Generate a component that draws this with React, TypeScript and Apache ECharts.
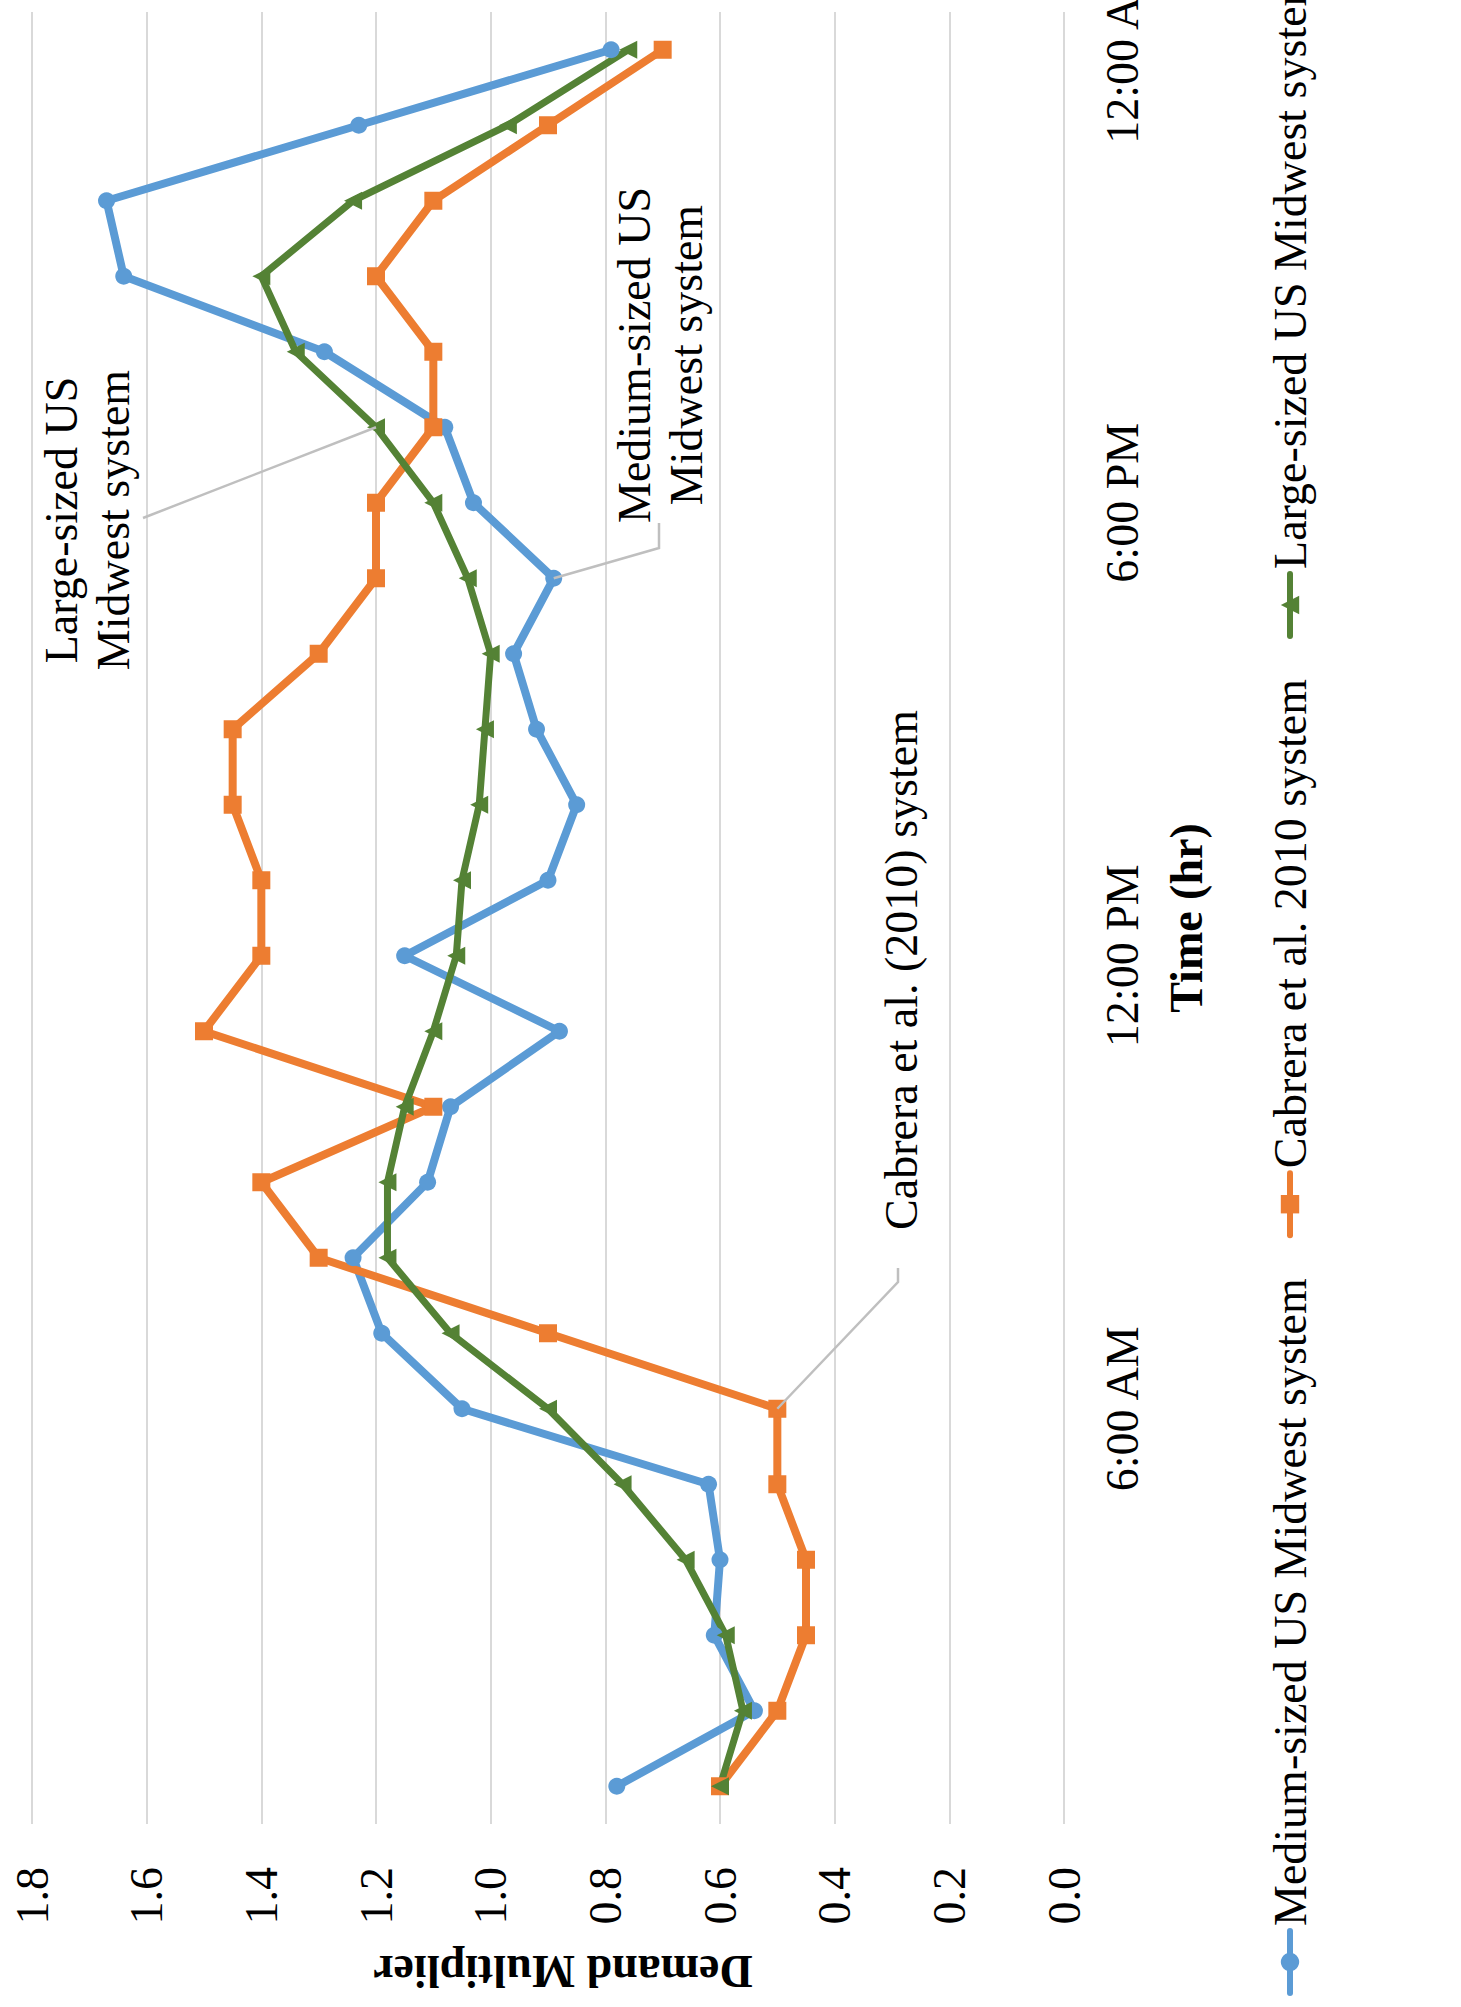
import React, { useEffect, useRef } from "react";
import * as echarts from "echarts";

// Hourly time steps of the demand pattern
const HOURS = [
  "1:00 AM", "2:00 AM", "3:00 AM", "4:00 AM", "5:00 AM", "6:00 AM",
  "7:00 AM", "8:00 AM", "9:00 AM", "10:00 AM", "11:00 AM", "12:00 PM",
  "1:00 PM", "2:00 PM", "3:00 PM", "4:00 PM", "5:00 PM", "6:00 PM",
  "7:00 PM", "8:00 PM", "9:00 PM", "10:00 PM", "11:00 PM", "12:00 AM",
];

// Hours that carry a tick label on the time axis
const LABELED_HOURS = ["6:00 AM", "12:00 PM", "6:00 PM", "12:00 AM"];

const SERIES_NAMES = [
  "Medium-sized US Midwest system",
  "Cabrera et al. 2010 system",
  "Large-sized US Midwest system",
];

// Demand multipliers per hour
const MEDIUM = [
  0.78, 0.54, 0.61, 0.6, 0.62, 1.05, 1.19, 1.24, 1.11, 1.07, 0.88, 1.15,
  0.9, 0.85, 0.92, 0.96, 0.89, 1.03, 1.08, 1.29, 1.64, 1.67, 1.23, 0.79,
];
const CABRERA = [
  0.6, 0.5, 0.45, 0.45, 0.5, 0.5, 0.9, 1.3, 1.4, 1.1, 1.5, 1.4,
  1.4, 1.45, 1.45, 1.3, 1.2, 1.2, 1.1, 1.1, 1.2, 1.1, 0.9, 0.7,
];
const LARGE = [
  0.6, 0.56, 0.59, 0.66, 0.77, 0.9, 1.07, 1.18, 1.18, 1.15, 1.1, 1.06,
  1.05, 1.02, 1.01, 1.0, 1.04, 1.1, 1.2, 1.34, 1.4, 1.24, 0.97, 0.76,
];

// Callout texts and the point each one points to
const CALLOUTS = [
  { text: "Large-sized US\nMidwest system", series: 2, hour: "7:00 PM" },
  { text: "Medium-sized US\nMidwest system", series: 0, hour: "5:00 PM" },
  { text: "Cabrera et al. (2010) system", series: 1, hour: "6:00 AM" },
];

const COLORS = ["#5B9BD5", "#ED7D31", "#548235"];
const FONT = "Liberation Serif, Times New Roman, serif";

export default function App() {
  const ref = useRef<HTMLDivElement>(null);

  useEffect(() => {
    if (!ref.current) return;
    const chart = echarts.init(ref.current, null, { renderer: "svg" });
    const values = [MEDIUM, CABRERA, LARGE];
    const symbols = ["circle", "rect", "triangle"];
    const symbolSizes = [17, 18, 18];
    const widths = [8, 8, 7];

    chart.setOption({
      animation: false,
      backgroundColor: "#ffffff",
      textStyle: { fontFamily: FONT, color: "#000" },
      grid: { left: 183, top: 32, width: 1812, height: 1032 },
      legend: {
        left: 6,
        top: 1262,
        itemWidth: 62,
        itemHeight: 23,
        itemGap: 40,
        data: SERIES_NAMES.map((name, s) => ({
          name,
          lineStyle: { width: 6, color: COLORS[s], cap: "round" },
          itemStyle: { color: COLORS[s] },
        })),
        textStyle: { fontFamily: FONT, fontSize: 46, color: "#000" },
      },
      xAxis: {
        type: "category",
        data: HOURS,
        boundaryGap: true,
        name: "Time (hr)",
        nameLocation: "middle",
        nameGap: 99,
        nameTextStyle: { fontFamily: FONT, fontSize: 46, fontWeight: "bold", color: "#000" },
        axisLine: { show: false },
        axisTick: { show: false },
        axisLabel: {
          interval: (_i: number, v: string) => LABELED_HOURS.includes(v),
          margin: 35,
          fontFamily: FONT,
          fontSize: 46,
          color: "#000",
        },
      },
      yAxis: {
        type: "value",
        min: 0,
        max: 1.8,
        interval: 0.2,
        name: "Demand Multiplier",
        nameLocation: "middle",
        nameGap: 124,
        nameTextStyle: {
          fontFamily: FONT,
          fontSize: 46,
          fontWeight: "bold",
          color: "#000",
          padding: [0, 30, 0, 0],
        },
        axisLine: { show: false },
        axisTick: { show: false },
        splitLine: { lineStyle: { color: "#D9D9D9", width: 2 } },
        axisLabel: {
          margin: 43,
          fontFamily: FONT,
          fontSize: 46,
          color: "#000",
          formatter: (v: number) => v.toFixed(1),
        },
      },
      series: SERIES_NAMES.map((name, s) => ({
        name,
        type: "line",
        data: values[s],
        symbol: symbols[s],
        symbolSize: symbolSizes[s],
        showSymbol: true,
        color: COLORS[s],
        itemStyle: { color: COLORS[s] },
        lineStyle: { color: COLORS[s], width: widths[s], join: "round" },
        emphasis: { disabled: true },
      })),
    });

    // Callout placement (text anchor + leader start/elbow)
    const layouts = [
      { x: 1487, y: 35, align: "center", vAlign: "top", lead: [[1489, 143]] },
      { x: 1652, y: 608, align: "center", vAlign: "top", lead: [[1484, 659], [1459, 659]] },
      { x: 1037, y: 901, align: "center", vAlign: "middle", lead: [[739, 898], [725, 898]] },
    ];

    const graphics: any[] = [];
    CALLOUTS.forEach((c, k) => {
      const L = layouts[k];
      const idx = HOURS.indexOf(c.hour);
      const target = chart.convertToPixel({ seriesIndex: c.series }, [idx, values[c.series][idx]]) as number[];
      graphics.push({
        type: "polyline",
        z: 50,
        silent: true,
        shape: { points: [...L.lead, target] },
        style: { stroke: "#BFBFBF", lineWidth: 2.5, fill: null },
      });
      graphics.push({
        type: "text",
        z: 60,
        silent: true,
        x: L.x,
        y: L.y,
        style: {
          text: c.text,
          fontFamily: FONT,
          fontSize: 46,
          lineHeight: 52,
          fill: "#000",
          align: L.align,
          verticalAlign: L.vAlign,
        },
      });
    });
    chart.setOption({ graphic: graphics });

    return () => chart.dispose();
  }, []);

  return (
    <div
      style={{
        position: "absolute",
        left: 0,
        top: 0,
        width: 1461,
        height: 2007,
        overflow: "hidden",
        background: "#ffffff",
      }}
    >
      <div
        ref={ref}
        style={{
          position: "absolute",
          left: 0,
          top: 0,
          width: 2100,
          height: 1461,
          transformOrigin: "0 0",
          transform: "translate(0px, 2007px) rotate(-90deg)",
        }}
      />
    </div>
  );
}
